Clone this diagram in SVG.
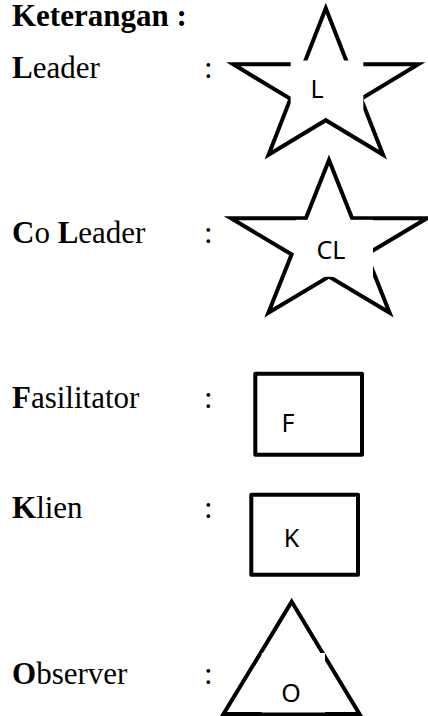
<svg xmlns="http://www.w3.org/2000/svg" width="428" height="716" viewBox="0 0 428 716">
  <style>
    .t { font-family: "Liberation Serif", "Times New Roman", serif; font-size: 31px; fill: #000; }
    .b { font-weight: bold; }
    .shape { fill: #fff; stroke: #000; stroke-width: 4; stroke-miterlimit: 10; }
    .rect { stroke-linejoin: round; }
    .box { fill: #fff; stroke: none; }
    .lbl { font-family: "Noto Sans", "Open Sans", "Liberation Sans", sans-serif; font-size: 25px; fill: #000; text-anchor: middle; }
  </style>
  <rect width="428" height="716" fill="#fff"/>
  <g id="title">
    <text class="t b" x="12" y="26">Keterangan :</text>
  </g>
  <g id="legend-labels">
    <text class="t" x="12" y="78"><tspan class="b">L</tspan>eader</text>
    <text class="t" x="204" y="78">:</text>
    <text class="t" x="12" y="243"><tspan class="b">C</tspan>o <tspan class="b">L</tspan>eader</text>
    <text class="t" x="204" y="243">:</text>
    <text class="t" x="12" y="408"><tspan class="b">F</tspan>asilitator</text>
    <text class="t" x="204" y="408">:</text>
    <text class="t" x="12" y="518"><tspan class="b">K</tspan>lien</text>
    <text class="t" x="204" y="518">:</text>
    <text class="t" x="12" y="684"><tspan class="b">O</tspan>bserver</text>
    <text class="t" x="204" y="684">:</text>
  </g>
  <g id="leader">
    <polygon class="shape" points="325.8,8.3 347.7,64.3 418.3,64.3 361.2,98.9 383,154.8 325.8,120.2 268.6,154.8 290.4,98.9 233.3,64.3 303.9,64.3"/>
    <rect class="box" x="290.7" y="60.5" width="72.6" height="49.5"/>
    <text class="lbl" x="317" y="98">L</text>
  </g>
  <g id="co-leader">
    <polygon class="shape" points="329,160 352.1,218.3 427,218.3 366.4,254.4 389.6,312.7 329,276.6 268.4,312.7 291.6,254.4 231,218.3 305.9,218.3"/>
    <rect class="box" x="296" y="219.8" width="77" height="57"/>
    <text class="lbl" x="331" y="259">CL</text>
  </g>
  <g id="fasilitator">
    <rect class="shape rect" x="255.3" y="373.7" width="106.7" height="81"/>
    <text class="lbl" x="288" y="432">F</text>
  </g>
  <g id="klien">
    <rect class="shape rect" x="251.3" y="494.7" width="106.7" height="80"/>
    <text class="lbl" x="291.5" y="547">K</text>
  </g>
  <g id="observer">
    <polygon class="shape" points="291.7,601.7 359.5,714 223.5,714"/>
    <rect class="box" x="261.7" y="653" width="63.3" height="59.5"/>
    <text class="lbl" x="291" y="702">O</text>
  </g>
  <g id="connectors"/>
</svg>
